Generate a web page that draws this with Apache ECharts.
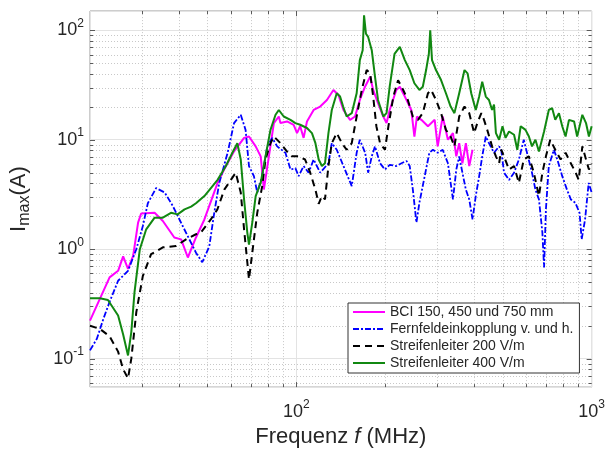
<!DOCTYPE html>
<html>
<head>
<meta charset="utf-8">
<script src="https://cdn.jsdelivr.net/npm/echarts@6/dist/echarts.min.js"></script>
<style>
  html, body { margin: 0; padding: 0; background: #fff; }
  #chart { width: 608px; height: 453px; }
</style>
</head>
<body>
<div id="chart"></div>
<script>
// Frequenz (MHz), Strom Imax (A)
const bciData = [
  [20,0.223],[23.3,0.553],[24.9,0.635],[25.9,0.86],[26.9,0.66],[28.0,0.87],[29.1,1.75],[29.8,2.12],
  [33.1,2.15],[35.3,1.81],[38.6,1.28],[40.7,1.23],[42.9,0.84],[45.7,1.28],[48.8,1.87],[54.1,4.03],
  [56.9,5.34],[61.5,7.83],[66.5,10.4],[69.1,10.7],[72.8,8.7],[75.7,7.05],[77.6,3.51],[80.7,7.05],
  [83.9,14.2],[87.2,16.3],[88.3,14.2],[93.0,14.7],[97.9,13.7],[100.5,11.5],[103,13.3],[105.8,10.4],
  [108.6,14.7],[114.4,18.7],[120.4,20.1],[126.9,23.1],[133.5,28.5],[138.8,25.6],[144.3,18.7],[152,15.2],
  [158,16.3],[164,23.1],[170.8,30.5],[177.8,37.7],[182,28.5],[189,21.6],[196.9,16.3],[202,14.2],
  [207,18.7],[218,28.5],[224,30.5],[233,24.8],[245,18.7],[251,10.7],[256,16.3],[265,15.2],[279,13.3],
  [294,15.2],[301,8.7],[313,16.3],[326,10],[339,11.5],[348,7.05],[356,9.3],[365,6.1],[375,9.3],
  [385,5.75],[395,8.1]
];
const fernData = [
  [20,0.119],[21.1,0.152],[22.2,0.231],[23.3,0.33],[24.9,0.515],[26.9,0.635],[28.7,1.0],[30.2,1.63],
  [31.4,2.63],[33.5,3.62],[35.8,3.3],[38.1,2.5],[41.2,1.63],[43.4,1.23],[45.7,0.93],[48,0.76],
  [50.7,1.06],[52.7,2.15],[54.8,4.03],[58.5,7.6],[61.5,14.2],[64.8,16.9],[67.3,12.3],[69.1,5.75],
  [71.8,4.65],[73.7,3.3],[76.6,4.65],[79.7,8.7],[82.8,10.4],[86.1,8.7],[91.8,7.6],[95.5,5.34],
  [99.2,5.5],[101.8,4.65],[105.8,5.75],[110,5.0],[114.4,6.6],[120.4,5.0],[128.4,6.1],[131.8,9.3],
  [137,8.1],[146,5.34],[154,3.77],[160,7.6],[164,10],[171,7.6],[175,5.0],[180,7.05],[184.6,8.7],
  [192,6.1],[199.5,5.34],[207,5.9],[218,5.75],[227,6.1],[236,6.4],[242,5.75],[248,3.5],[255,1.75],
  [261,2.66],[272,4.65],[282,7.6],[290,8.1],[301,7.6],[313,8.1],[326,6.1],[339,2.85],[348,5.34],
  [356,7.05],[365,5.0],[375,3.5],[385,2.85],[395,1.87],[405,3.06],[416,4.65],[426,7.05],[438,10.7],
  [449,9.3],[467,7.6],[486,8.7],[494,8.1],[505,5.0],[525,4.3],[546,5.0],[567,6.6],[589,10],
  [604,7.6],[628,5.0],[645,3.5],[663,2.85],[681,1.42],[690,0.68],[700,2.31],[716,5.75],[745,8.1],
  [765,6.6],[795,4.65],[825,3.5],[850,2.85],[880,2.66],[910,2.15],[925,1.23],[950,1.87],[977,4.03],
  [1000,3.3]
];
const s200Data = [
  [20,0.2],[21.6,0.187],[23.3,0.16],[24.9,0.116],[25.9,0.08],[26.9,0.066],[27.6,0.1],[28.7,0.266],
  [30.2,0.57],[32.2,0.9],[35.3,1.04],[39.1,1.07],[42.3,1.23],[45.7,1.37],[47.5,1.42],[51.3,1.87],
  [54,2.31],[57,3.5],[60,4.3],[62.3,5.0],[64.8,3.3],[66.5,1.52],[68.2,0.76],[69.1,0.53],[70.9,0.93],
  [73.7,2.15],[76.6,3.77],[78.6,6.6],[81.7,9.3],[83.9,10.7],[88.3,9.3],[93,7.8],[96.7,7.05],
  [101.8,7.05],[107,6.6],[111.4,5.0],[116,3.5],[119,2.6],[122,3.06],[125,2.85],[128.4,5.75],
  [131.8,9.3],[137,11.5],[142.6,9.3],[148,8.1],[154,9.3],[160,16.3],[166.5,28.5],[173,43.3],
  [177.8,40.4],[182,24.8],[186.6,13.3],[192,9.3],[199.5,8.1],[205,13.3],[213,24.8],[221,35],
  [230,28.5],[238.5,23.1],[248,16.3],[258,15.2],[268,17.5],[279,26.6],[286,28.5],[297,23.1],
  [309,17.5],[321,12.3],[333,10.7],[343,8.7],[356,16.3],[371,20.1],[385,17.5],[400,11.5],[410,14.2],
  [423,17.5],[432,15.2],[443,12.3],[460,8.7],[474,7.05],[486,6.1],[494,8.1],[505,7.05],[525,5.34],
  [546,5.75],[567,4.03],[589,6.6],[613,7.05],[637,5.0],[663,3.06],[681,5.0],[700,7.05],[724,10],
  [753,8.1],[785,6.6],[816,7.6],[850,6.1],[883,5.0],[904,4.3],[930,8.7],[957,6.6],[979,5.34],[1000,6.1]
];
const s400Data = [
  [20,0.356],[21.6,0.356],[23,0.344],[24.9,0.248],[25.9,0.166],[26.9,0.107],[27.6,0.175],[28.3,0.405],
  [29.5,1.0],[31,1.52],[33.1,1.94],[35.3,1.94],[37.6,2.15],[39.6,2.08],[41.8,2.31],[44,2.45],[45.7,2.63],
  [48.8,3.06],[54.1,4.3],[57.7,5.75],[60.7,7.6],[63.1,9.3],[64.8,6.6],[66.5,2.85],[68.2,1.42],[69.1,1.1],
  [70.9,1.75],[72.8,3.06],[75.7,4.03],[78.6,7.05],[81.7,12.3],[85,16.9],[87.2,18.7],[90.6,16.3],
  [95.5,15.2],[99.2,14.2],[103,13.7],[108.6,12.8],[112.9,11.5],[116,9.3],[119,6.6],[122,5.75],[125,6.1],
  [128.4,11.5],[131.8,18.7],[137,26.6],[140.6,24.8],[144,20.1],[148,16.3],[154,17.5],[160,26.6],
  [164,53.4],[167.7,65.8],[169.5,137],[172,93],[175,87],[180,65.8],[184.6,37.7],[189,23.1],[197,16.3],
  [202,17.5],[207,30.5],[215,61],[224,70.5],[233,53.4],[242,43.3],[251,32.8],[261,28.5],[268,30.5],
  [275,43.3],[281,61],[284,100],[288,53.4],[297,43.3],[309,35.1],[321,26.6],[333,20.1],[343,17.5],
  [356,26.6],[371,43.3],[380,40.4],[391,26.6],[405,18.7],[416,24.8],[426,33.9],[438,24.8],[449,23.1],
  [460,18.7],[467,21],[474,11.5],[486,10],[499,13.3],[511,10.4],[525,11.9],[546,11.1],[560,8.1],
  [575,13.3],[597,12.3],[613,10.7],[628,8.7],[645,10],[663,7.8],[690,11.9],[716,18.7],[735,19.4],
  [753,15.2],[775,17.5],[795,13.3],[816,10.7],[838,15.2],[872,14.7],[893,10.7],[930,16.9],[957,14.2],
  [979,10.7],[1000,13.3]
];

const seriesNames = ['BCI 150, 450 und 750 mm', 'Fernfeldeinkopplung v. und h.', 'Streifenleiter 200 V/m', 'Streifenleiter 400 V/m'];

// Achsen
const xMin = 20, xMax = 1000;
const yMin = 0.055, yMax = 150;
const xMinor = [30, 40, 50, 60, 70, 80, 90, 200, 300, 400, 500, 600, 700, 800, 900];
const yMinor = [0.06, 0.07, 0.08, 0.09, 0.2, 0.3, 0.4, 0.5, 0.6, 0.7, 0.8, 0.9,
  2, 3, 4, 5, 6, 7, 8, 9, 20, 30, 40, 50, 60, 70, 80, 90];
const xMajor = [100];
const yMajor = [0.1, 1, 10, 100];

const FONT = '"Liberation Sans", Arial, Helvetica, sans-serif';
const TXT = '#262626';

function powLabel(v) {
  const e = Math.round(Math.log10(v));
  return '{b|10}{e|' + e + '}';
}
const powRich = {
  b: { fontSize: 18, color: TXT, fontFamily: FONT, lineHeight: 26 },
  e: { fontSize: 12, color: TXT, fontFamily: FONT, verticalAlign: 'top', lineHeight: 13 }
};

function crisp(v) { return Math.round(v) + 0.5; }

// Nebengitter und Ticks an allen vier Seiten
function renderXGrid(params, api) {
  const v = api.value(0);
  const minor = api.value(1) === 0;
  const a = api.coord([v, yMin]);
  const b = api.coord([v, yMax]);
  const x = crisp(a[0]);
  const kids = [
    { type: 'line', shape: { x1: x, y1: a[1], x2: x, y2: a[1] - (minor ? 3 : 5) }, style: { stroke: '#5a5a5a', lineWidth: 1 } },
    { type: 'line', shape: { x1: x, y1: b[1], x2: x, y2: b[1] + (minor ? 3 : 5) }, style: { stroke: '#5a5a5a', lineWidth: 1 } }
  ];
  if (minor) {
    kids.unshift({ type: 'line', shape: { x1: x, y1: a[1], x2: x, y2: b[1] }, style: { stroke: '#c8c8c8', lineWidth: 1, lineDash: [1, 2] } });
  }
  return { type: 'group', children: kids };
}
function renderYGrid(params, api) {
  const v = api.value(1);
  const minor = api.value(0) === 0;
  const a = api.coord([xMin, v]);
  const b = api.coord([xMax, v]);
  const y = crisp(a[1]);
  const kids = [
    { type: 'line', shape: { x1: a[0], y1: y, x2: a[0] + (minor ? 3 : 5), y2: y }, style: { stroke: '#5a5a5a', lineWidth: 1 } },
    { type: 'line', shape: { x1: b[0], y1: y, x2: b[0] - (minor ? 3 : 5), y2: y }, style: { stroke: '#5a5a5a', lineWidth: 1 } }
  ];
  if (minor) {
    kids.unshift({ type: 'line', shape: { x1: a[0], y1: y, x2: b[0], y2: y }, style: { stroke: '#c8c8c8', lineWidth: 1, lineDash: [1, 2] } });
  }
  return { type: 'group', children: kids };
}

const chart = echarts.init(document.getElementById('chart'), null, { renderer: 'canvas' });

const lineBase = { type: 'line', symbol: 'none', smooth: false, z: 5 };

const option = {
  animation: false,
  backgroundColor: '#fff',
  textStyle: { fontFamily: FONT },
  grid: {
    left: 89, right: 15, top: 11, bottom: 64,
    show: true, borderColor: '#9a9a9a', borderWidth: 1, backgroundColor: '#fff'
  },
  legend: {
    data: seriesNames,
    orient: 'vertical',
    left: 348, top: 303,
    itemWidth: 32, itemHeight: 14, itemGap: 3,
    padding: [2, 6, 3, 4],
    backgroundColor: '#fff',
    borderColor: '#333', borderWidth: 1,
    itemStyle: { opacity: 0 },
    textStyle: { fontSize: 14, color: TXT, fontFamily: FONT }
  },
  xAxis: {
    type: 'log', logBase: 10, min: xMin, max: xMax,
    name: '{n|Frequenz }{i|f}{n| (MHz)}',
    nameLocation: 'middle', nameGap: 34,
    nameTextStyle: {
      rich: {
        n: { fontSize: 22, color: TXT, fontFamily: FONT },
        i: { fontSize: 22, color: TXT, fontFamily: FONT, fontStyle: 'italic' }
      }
    },
    axisLine: { show: false },
    axisTick: { show: false },
    splitLine: { show: true, lineStyle: { color: '#e3e3e3', width: 1 } },
    axisLabel: { formatter: powLabel, rich: powRich, margin: 12, showMinLabel: false, showMaxLabel: true }
  },
  yAxis: {
    type: 'log', logBase: 10, min: yMin, max: yMax,
    name: '{n|I}{s|max}{n|(A)}',
    nameLocation: 'middle', nameGap: 57,
    nameTextStyle: {
      rich: {
        n: { fontSize: 22, color: TXT, fontFamily: FONT, lineHeight: 28 },
        s: { fontSize: 16, color: TXT, fontFamily: FONT, verticalAlign: 'bottom', lineHeight: 16 }
      }
    },
    axisLine: { show: false },
    axisTick: { show: false },
    splitLine: { show: true, lineStyle: { color: '#e3e3e3', width: 1 } },
    axisLabel: { formatter: powLabel, rich: powRich, margin: 6, showMinLabel: false, showMaxLabel: false }
  },
  series: [
    {
      type: 'custom', name: 'xgrid', silent: true, z: 1,
      renderItem: renderXGrid, encode: { x: 0, y: 1 },
      data: xMinor.map(v => [v, 0]).concat(xMajor.map(v => [v, 1]))
    },
    {
      type: 'custom', name: 'ygrid', silent: true, z: 1,
      renderItem: renderYGrid, encode: { x: 0, y: 1 },
      data: yMinor.map(v => [0, v]).concat(yMajor.map(v => [1, v]))
    },
    Object.assign({}, lineBase, {
      name: seriesNames[0], data: bciData,
      lineStyle: { color: '#ff00ff', width: 2 }, itemStyle: { color: '#ff00ff' }
    }),
    Object.assign({}, lineBase, {
      name: seriesNames[1], data: fernData,
      lineStyle: { color: '#0000ff', width: 1.8, type: [6, 2, 2, 2] }, itemStyle: { color: '#0000ff' }
    }),
    Object.assign({}, lineBase, {
      name: seriesNames[2], data: s200Data,
      lineStyle: { color: '#000000', width: 2, type: [7, 5] }, itemStyle: { color: '#000000' }
    }),
    Object.assign({}, lineBase, {
      name: seriesNames[3], data: s400Data,
      lineStyle: { color: '#118811', width: 2 }, itemStyle: { color: '#118811' }
    })
  ]
};

chart.setOption(option);
window.addEventListener('resize', function () { chart.resize(); });
</script>
</body>
</html>
